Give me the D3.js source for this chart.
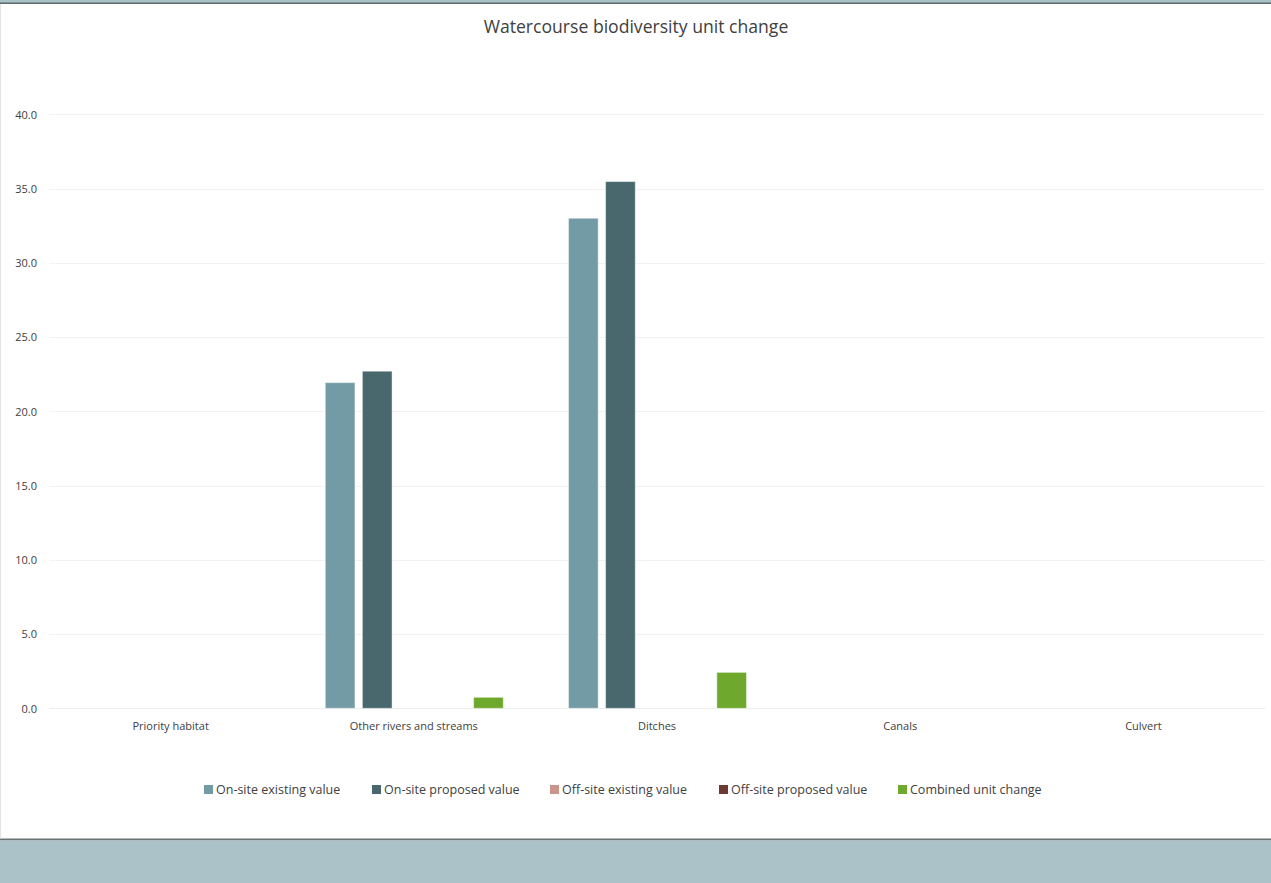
<!DOCTYPE html>
<html><head><meta charset="utf-8">
<script src="https://cdn.jsdelivr.net/npm/d3@7"></script>
<style>body{margin:0;background:#fff;}svg{display:block;}</style>
</head><body>
<script>
const categories = ["Priority habitat","Other rivers and streams","Ditches","Canals","Culvert"];
const seriesNames = ["On-site existing value","On-site proposed value","Off-site existing value","Off-site proposed value","Combined unit change"];
const seriesColors = ["#739ba5","#48686e","#c9958a","#6b3a32","#6ea92e"];
const onsiteExisting = [0, 21.93, 33.0, 0, 0];
const onsiteProposed = [0, 22.7, 35.47, 0, 0];
const offsiteExisting = [0, 0, 0, 0, 0];
const offsiteProposed = [0, 0, 0, 0, 0];
const combinedChange = [0, 0.74, 2.42, 0, 0];
const yTicks = [0,5,10,15,20,25,30,35,40];
const title = "Watercourse biodiversity unit change";

const seriesValues = [onsiteExisting, onsiteProposed, offsiteExisting, offsiteProposed, combinedChange];
const W = 1271, H = 883;
const svg = d3.select("body").append("svg").attr("width", W).attr("height", H);
const font = "'Open Sans', 'Liberation Sans', sans-serif";

// frame
svg.append("rect").attr("x",0).attr("y",0).attr("width",W).attr("height",H).attr("fill","#fff");
svg.append("rect").attr("x",0).attr("y",0).attr("width",W).attr("height",3).attr("fill","#a9c1c7");
svg.append("rect").attr("x",0).attr("y",2.5).attr("width",W).attr("height",1.5).attr("fill","#5f6b6e");
svg.append("rect").attr("x",0).attr("y",838.5).attr("width",W).attr("height",2).attr("fill","#6b7274");
svg.append("rect").attr("x",0).attr("y",840.5).attr("width",W).attr("height",H-840.5).attr("fill","#abc2c8");
svg.append("line").attr("x1",0.5).attr("x2",0.5).attr("y1",4).attr("y2",838.5).attr("stroke","#e4e4e4");

const margin = {left:49, right:1265, top:114.3, bottom:708.3};
const x = d3.scaleBand().domain(categories).range([margin.left, margin.right]).paddingInner(0).paddingOuter(0);
const y = d3.scaleLinear().domain([0,40]).range([margin.bottom, margin.top]);

// gridlines
svg.append("g").selectAll("line").data(yTicks).join("line")
  .attr("x1", margin.left).attr("x2", margin.right)
  .attr("y1", d=>Math.round(y(d))+0.5).attr("y2", d=>Math.round(y(d))+0.5)
  .attr("stroke", d=> d===0 ? "#eaeeee" : "#f1f3f3").attr("stroke-width",1);

// y axis
const yAxis = d3.axisLeft(y).tickValues(yTicks).tickFormat(d3.format(".1f")).tickSize(0).tickPadding(0);
const gy = svg.append("g").attr("transform", `translate(37,0)`).call(yAxis);
gy.select(".domain").remove();
gy.selectAll("text").attr("font-family", font).attr("font-size", 11).attr("fill", "#404040").attr("dy","0.35em");

// x axis
const xAxis = d3.axisBottom(x).tickSize(0).tickPadding(0);
const gx = svg.append("g").attr("transform", `translate(0,${margin.bottom + 14})`).call(xAxis);
gx.select(".domain").remove();
gx.selectAll("text").attr("font-family", font).attr("font-size", 11).attr("fill", "#404040").attr("dy","0.71em");

// bars
const groupWidth = 178;
const x1 = d3.scaleBand().domain(d3.range(seriesNames.length)).range([0, groupWidth]).paddingInner(0.2);
const gBars = svg.append("g");
seriesValues.forEach((vals, si) => {
  gBars.append("g").selectAll("rect").data(vals.map((v,i)=>({v, c:categories[i]})).filter(d=>d.v>0)).join("rect")
    .attr("x", d => x(d.c) + (x.bandwidth()-groupWidth)/2 + x1(si) + 0.5)
    .attr("y", d => y(d.v))
    .attr("width", x1.bandwidth())
    .attr("height", d => y(0) - y(d.v))
    .attr("fill", seriesColors[si])
    .attr("stroke", "rgba(255,255,255,0.45)").attr("stroke-width", 1);
});

// title
svg.append("text").attr("x", 636).attr("y", 33).attr("text-anchor","middle")
  .attr("font-family", font).attr("font-size", 17.6).attr("fill","#404040").text(title);

// legend
const legendX = [204, 372, 550, 719, 898];
const lg = svg.append("g");
seriesNames.forEach((n,i)=>{
  lg.append("rect").attr("x", legendX[i]).attr("y", 785).attr("width", 9).attr("height", 9).attr("fill", seriesColors[i]);
  lg.append("text").attr("x", legendX[i]+12).attr("y", 790).attr("dy","0.35em")
    .attr("font-family", font).attr("font-size", 12.5).attr("fill","#404040").text(n);
});
</script>
</body></html>
